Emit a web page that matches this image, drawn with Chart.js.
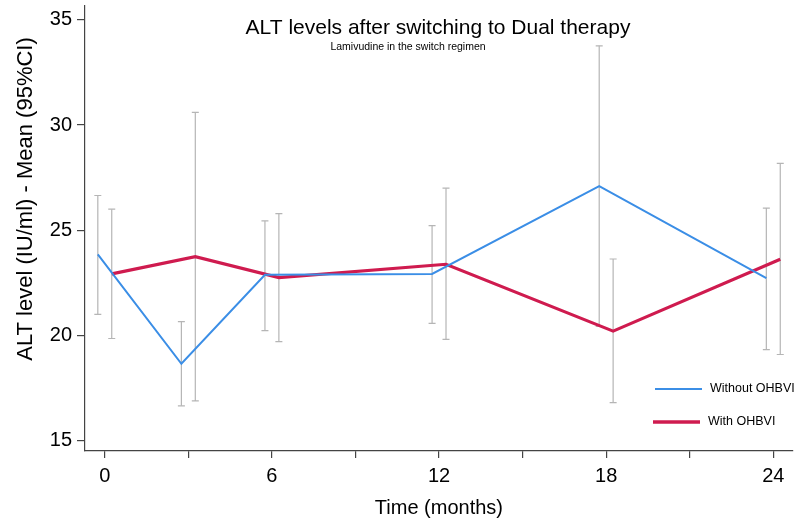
<!DOCTYPE html>
<html>
<head>
<meta charset="utf-8">
<script src="https://cdn.jsdelivr.net/npm/chart.js@4.4.1/dist/chart.umd.min.js"></script>
<style>
  html, body { margin: 0; padding: 0; background: #fff; }
</style>
</head>
<body>
<canvas id="alt-chart" width="798" height="523"></canvas>
<script>
// time points (months)
const months = [0, 3, 6, 12, 18, 24];

// Without OHBVI
const withoutMean = [23.85, 18.65, 22.88, 22.92, 27.10, 22.72];
const withoutLow  = [21.00, 16.65, 20.22, 20.57, 20.42, 19.32];
const withoutHigh = [26.65, 20.65, 25.44, 25.22, 33.77, 26.05];

// With OHBVI
const withMean = [22.92, 23.74, 22.75, 23.38, 20.20, 23.62];
const withLow  = [19.85, 16.88, 19.70, 19.81, 16.80, 19.09];
const withHigh = [26.00, 30.60, 25.79, 27.00, 23.63, 28.18];

const yTicks = [15, 20, 25, 30, 35];
const xTicks = [0, 6, 12, 18, 24];
const xMinor = [3, 9, 15, 21];

const seriesNames = ['Without OHBVI', 'With OHBVI'];
const blue = '#3b8ee6';
const red = '#cf1b4f';
const barGrey = '#b5b5b5';
const shift = 0.25; // series are dodged a bit around each time point
const FONT = "'Liberation Sans', Arial, Helvetica, sans-serif";

function lineSet(label, mean, dx, color, width) {
    return {
        label: label,
        data: months.map((m, i) => ({x: m + dx, y: mean[i]})),
        showLine: true,
        borderColor: color,
        borderWidth: width,
        pointRadius: 0,
        order: 0
    };
}

function ciSets(low, high, dx) {
    return months.map((m, i) => ({
        label: 'ci',
        data: [{x: m + dx, y: low[i]}, {x: m + dx, y: high[i]}],
        showLine: true,
        borderColor: barGrey,
        borderWidth: 1.2,
        pointStyle: 'line',
        pointRadius: 3.5,
        pointBorderColor: barGrey,
        pointBorderWidth: 1.2,
        order: 1
    }));
}

const datasets = [
    lineSet(seriesNames[0], withoutMean, -shift, blue, 2),
    lineSet(seriesNames[1], withMean, shift, red, 3.2),
    ...ciSets(withoutLow, withoutHigh, -shift),
    ...ciSets(withLow, withHigh, shift)
];

// titles, y title and legend sit inside / beside the plot like the original
const extras = {
    id: 'extras',
    afterDraw(chart) {
        const ctx = chart.ctx;
        ctx.save();
        ctx.fillStyle = '#000';
        ctx.textBaseline = 'middle';
        ctx.textAlign = 'center';
        ctx.font = '21px ' + FONT;
        ctx.fillText('ALT levels after switching to Dual therapy', 438, 28);
        ctx.font = '10.5px ' + FONT;
        ctx.fillText('Lamivudine in the switch regimen', 408, 47);

        ctx.save();
        ctx.translate(26, 199);
        ctx.rotate(-Math.PI / 2);
        ctx.font = '22px ' + FONT;
        ctx.fillText('ALT level (IU/ml) - Mean (95%CI)', 0, 0);
        ctx.restore();

        ctx.textAlign = 'left';
        ctx.font = '12.5px ' + FONT;
        const rows = [[blue, 2, 655, 389], [red, 3.5, 653, 422]];
        rows.forEach((r, i) => {
            ctx.strokeStyle = r[0];
            ctx.lineWidth = r[1];
            ctx.beginPath();
            ctx.moveTo(r[2], r[3]);
            ctx.lineTo(r[2] + 47, r[3]);
            ctx.stroke();
            ctx.fillText(seriesNames[i], r[2] + 55, r[3]);
        });
        ctx.restore();
    }
};

new Chart(document.getElementById('alt-chart'), {
    type: 'scatter',
    data: {datasets: datasets},
    options: {
        responsive: false,
        animation: false,
        layout: {padding: {top: 5, right: 1, bottom: 0, left: 0}},
        plugins: {
            legend: {display: false},
            tooltip: {enabled: false}
        },
        scales: {
            x: {
                type: 'linear',
                min: -0.71,
                max: 24.7,
                afterFit: s => { s.height = 72; s.paddingLeft = 0; s.paddingRight = 0; },
                afterBuildTicks: s => { s.ticks = xTicks.concat(xMinor).sort((a, b) => a - b).map(v => ({value: v})); },
                ticks: {
                    color: '#000',
                    font: {family: FONT, size: 20},
                    padding: 6,
                    maxRotation: 0,
                    autoSkip: false,
                    callback: v => xTicks.includes(v) ? String(v) : ''
                },
                grid: {drawOnChartArea: false, drawTicks: true, tickLength: 7, color: '#444', lineWidth: 1.2},
                border: {display: true, color: '#444', width: 1.2},
                title: {
                    display: true,
                    text: 'Time (months)',
                    color: '#000',
                    font: {family: FONT, size: 20},
                    padding: {top: 0, bottom: 3}
                }
            },
            y: {
                min: 14.5,
                max: 35.7,
                afterFit: s => { s.width = 85; s.paddingTop = 0; s.paddingBottom = 0; },
                afterBuildTicks: s => { s.ticks = yTicks.map(v => ({value: v})); },
                ticks: {
                    color: '#000',
                    font: {family: FONT, size: 20},
                    padding: 5
                },
                grid: {drawOnChartArea: false, drawTicks: true, tickLength: 8, color: '#444', lineWidth: 1.2},
                border: {display: true, color: '#444', width: 1.2}
            }
        }
    },
    plugins: [extras]
});
</script>
</body>
</html>
